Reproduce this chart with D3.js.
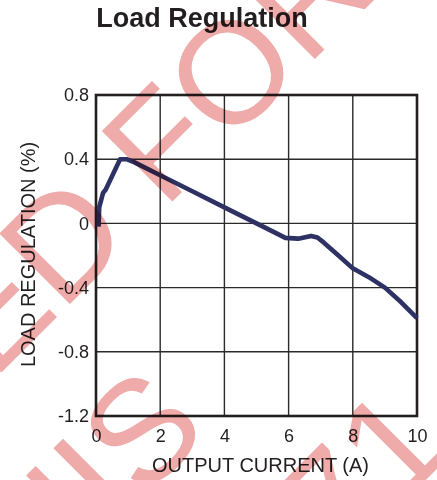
<!DOCTYPE html>
<html>
<head>
<meta charset="utf-8">
<script src="https://cdn.jsdelivr.net/npm/d3@7"></script>
<style>
  html, body { margin: 0; padding: 0; background: #fff; }
  svg { display: block; }
</style>
</head>
<body>
<svg id="chart" width="437" height="480"></svg>
<script>
// ---- data ----
const currentA = [0.08, 0.1, 0.22, 0.3, 0.75, 0.95, 1.2, 2, 3, 4, 5, 5.5, 5.9, 6.3, 6.7, 6.9, 7.1, 7.5, 8, 8.5, 9, 9.5, 10];
const regulationPct = [-0.02, 0.1, 0.19, 0.21, 0.4, 0.4, 0.38, 0.3, 0.2, 0.1, 0.0, -0.05, -0.09, -0.095, -0.078, -0.088, -0.12, -0.19, -0.28, -0.335, -0.4, -0.49, -0.59];
const xTicks = [0, 2, 4, 6, 8, 10];
const yTicks = [-1.2, -0.8, -0.4, 0, 0.4, 0.8];
const titleText = "Load Regulation";
const xTitle = "OUTPUT CURRENT (A)";
const yTitle = "LOAD REGULATION (%)";
const watermarkLines = [
  { before: "NOT RECOMMENDED", after: "FOR NEW DESIGNS" },
  { before: "THIS", after: "" },
  { before: "", after: "71" }
];

// ---- layout ----
const svg = d3.select("#chart");
const m = { left: 96, right: 417, top: 95, bottom: 416 };
const x = d3.scaleLinear().domain([0, 10]).range([m.left, m.right]);
const y = d3.scaleLinear().domain([-1.2, 0.8]).range([m.bottom, m.top]);
const font = "'Liberation Sans', Arial, Helvetica, sans-serif";
const ink = "#231f20";

// title
svg.append("text")
  .attr("x", 202).attr("y", 27)
  .attr("text-anchor", "middle")
  .attr("font-family", font).attr("font-weight", "bold")
  .attr("font-size", 27).attr("fill", ink)
  .text(titleText);

// grid
const grid = svg.append("g");
grid.selectAll("line.v").data(xTicks.slice(1, -1)).enter().append("line")
  .attr("x1", d => x(d)).attr("x2", d => x(d))
  .attr("y1", m.top).attr("y2", m.bottom)
  .attr("stroke", "#2a2a2a").attr("stroke-width", 1.4);
grid.selectAll("line.h").data(yTicks.slice(1, -1)).enter().append("line")
  .attr("x1", m.left).attr("x2", m.right)
  .attr("y1", d => y(d)).attr("y2", d => y(d))
  .attr("stroke", "#2a2a2a").attr("stroke-width", 1.4);

// axes (labels via d3 axis)
const xAxis = svg.append("g").attr("transform", `translate(0,${m.bottom})`)
  .call(d3.axisBottom(x).tickValues(xTicks).tickSize(0).tickPadding(13).tickFormat(d => String(d)));
const yAxis = svg.append("g").attr("transform", `translate(${m.left},0)`)
  .call(d3.axisLeft(y).tickValues(yTicks).tickSize(0).tickPadding(7)
    .tickFormat(d => d === 0 ? "0" : d.toFixed(1)));
[xAxis, yAxis].forEach(a => {
  a.select(".domain").remove();
  a.selectAll("text").attr("font-family", font).attr("font-size", 18).attr("fill", ink);
});
xAxis.selectAll("text").attr("dy", "0.71em");

// frame
svg.append("rect")
  .attr("x", m.left).attr("y", m.top)
  .attr("width", m.right - m.left).attr("height", m.bottom - m.top)
  .attr("fill", "none").attr("stroke", ink).attr("stroke-width", 2.6);

// axis titles
svg.append("text")
  .attr("x", (m.left + m.right) / 2 + 4).attr("y", 472)
  .attr("text-anchor", "middle")
  .attr("font-family", font).attr("font-size", 20).attr("fill", ink)
  .text(xTitle);
svg.append("text")
  .attr("transform", `translate(35,${(m.top + m.bottom) / 2 - 1}) rotate(-90)`)
  .attr("text-anchor", "middle")
  .attr("font-family", font).attr("font-size", 20).attr("fill", ink)
  .text(yTitle);

// curve
const pts = currentA.map((c, i) => [c, regulationPct[i]]);
svg.append("path")
  .datum(pts)
  .attr("fill", "none")
  .attr("stroke", "#2d3163")
  .attr("stroke-width", 4.6)
  .attr("stroke-linejoin", "round")
  .attr("d", d3.line().x(d => x(d[0])).y(d => y(d[1])));

// watermark
const wm = svg.append("g")
  .attr("transform", "translate(164,210) rotate(-45)")
  .style("mix-blend-mode", "multiply");
const wmSize = 145, spaceW = 0.278 * wmSize;
const lineOffsets = [0, 190, 376];
const xShift = [0, -123, -126];
watermarkLines.forEach((ln, i) => {
  if (ln.before) wm.append("text")
    .attr("x", xShift[i] - (i === 0 ? spaceW : 0)).attr("y", lineOffsets[i])
    .attr("text-anchor", "end")
    .attr("font-family", font).attr("font-size", wmSize).attr("fill", "#efaaaa")
    .text(ln.before);
  if (ln.after) wm.append("text")
    .attr("x", xShift[i]).attr("y", lineOffsets[i])
    .attr("text-anchor", "start")
    .attr("font-family", font).attr("font-size", wmSize).attr("fill", "#efaaaa")
    .text(ln.after);
});
</script>
</body>
</html>
